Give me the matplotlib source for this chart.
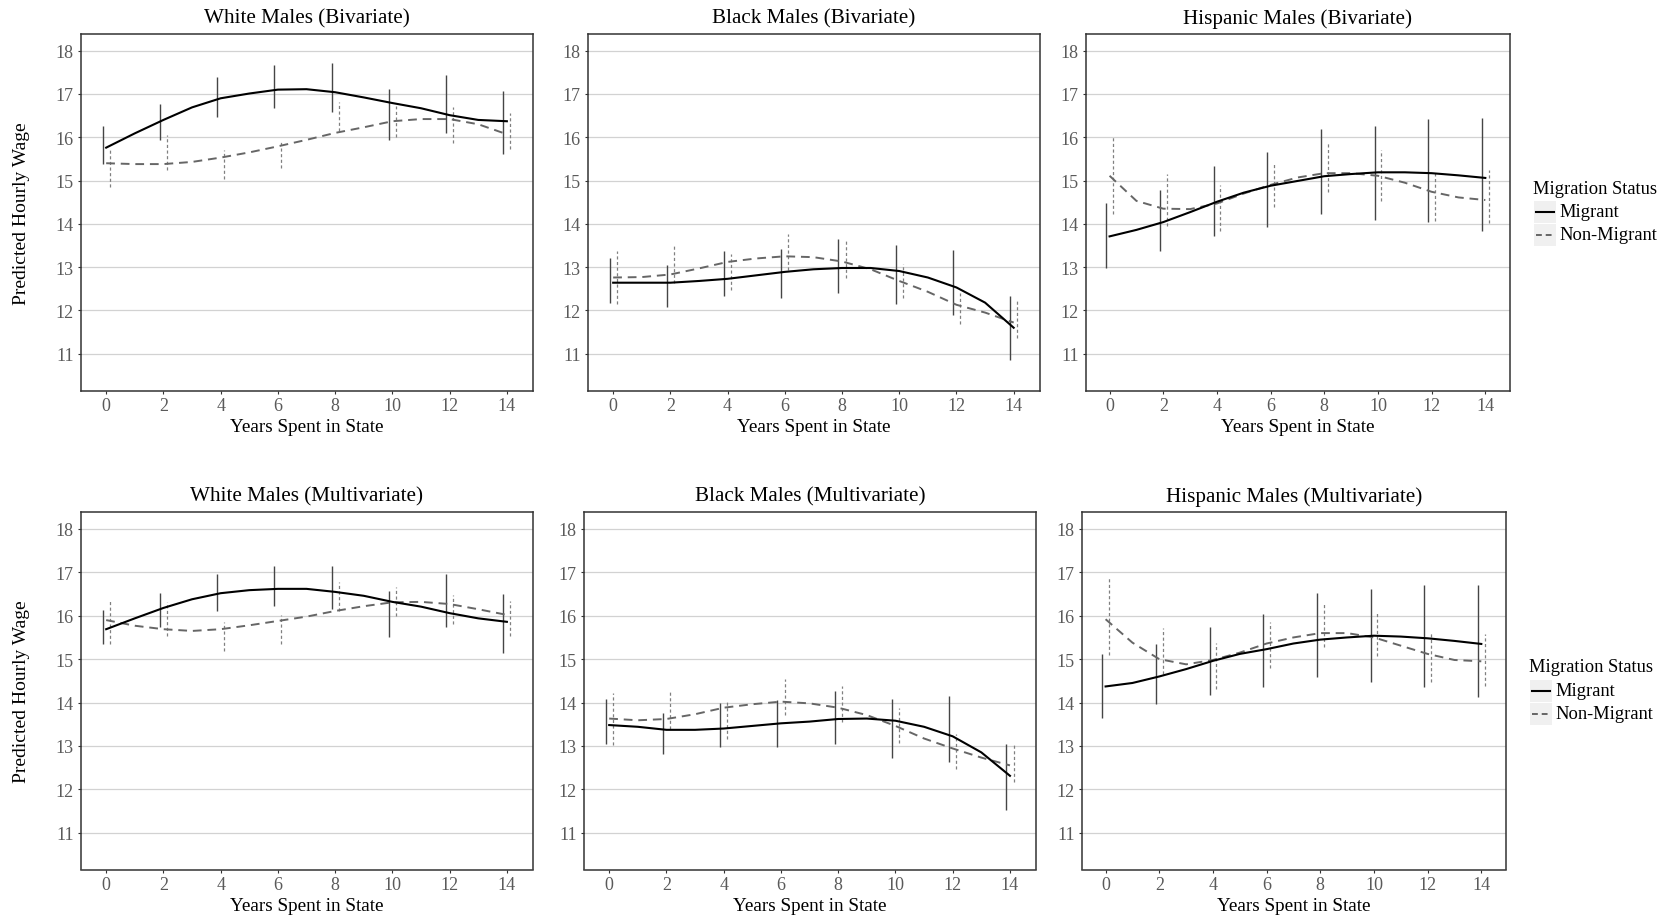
import matplotlib
matplotlib.use('Agg')
import matplotlib.pyplot as plt
from matplotlib.lines import Line2D
from matplotlib.patches import Rectangle

plt.rcParams['font.family'] = ['Liberation Serif', 'DejaVu Serif']

# x values
years = [0, 1, 2, 3, 4, 5, 6, 7, 8, 9, 10, 11, 12, 13, 14]
bar_years = [0, 2, 4, 6, 8, 10, 12, 14]

# White Males (Bivariate)
wb_mig = [15.76, 16.09, 16.40, 16.69, 16.90, 17.01, 17.10, 17.11, 17.04, 16.92, 16.79, 16.67, 16.51, 16.40, 16.37]
wb_non = [15.40, 15.38, 15.38, 15.43, 15.53, 15.65, 15.79, 15.94, 16.10, 16.23, 16.37, 16.42, 16.42, 16.30, 16.07]
wb_mig_lo = [15.38, 15.93, 16.47, 16.67, 16.59, 15.93, 16.10, 15.61]
wb_mig_hi = [16.26, 16.77, 17.40, 17.68, 17.71, 17.11, 17.44, 17.07]
wb_non_lo = [14.84, 15.24, 15.03, 15.28, 16.15, 16.00, 15.86, 15.73]
wb_non_hi = [15.75, 16.06, 15.71, 15.92, 16.82, 16.73, 16.69, 16.57]

# Black Males (Bivariate)
bb_mig = [12.64, 12.64, 12.64, 12.68, 12.73, 12.81, 12.89, 12.95, 12.98, 12.98, 12.91, 12.76, 12.53, 12.18, 11.60]
bb_non = [12.76, 12.77, 12.83, 12.97, 13.12, 13.20, 13.25, 13.23, 13.13, 12.95, 12.68, 12.43, 12.13, 11.95, 11.72]
bb_mig_lo = [12.16, 12.09, 12.33, 12.29, 12.41, 12.14, 11.89, 10.85]
bb_mig_hi = [13.20, 13.04, 13.37, 13.41, 13.64, 13.50, 13.40, 12.33]
bb_non_lo = [12.14, 12.64, 12.47, 12.93, 12.76, 12.29, 11.68, 11.37]
bb_non_hi = [13.37, 13.49, 13.30, 13.76, 13.61, 13.07, 12.41, 12.22]

# Hispanic Males (Bivariate)
hb_mig = [13.71, 13.86, 14.04, 14.27, 14.51, 14.72, 14.88, 14.99, 15.10, 15.15, 15.19, 15.19, 15.17, 15.12, 15.06]
hb_non = [15.11, 14.53, 14.35, 14.34, 14.47, 14.70, 14.90, 15.07, 15.17, 15.17, 15.11, 14.95, 14.74, 14.61, 14.55]
hb_mig_lo = [12.99, 13.37, 13.71, 13.92, 14.22, 14.08, 14.04, 13.83]
hb_mig_hi = [14.48, 14.78, 15.33, 15.67, 16.19, 16.26, 16.42, 16.44]
hb_non_lo = [14.22, 13.94, 13.84, 14.38, 14.74, 14.53, 14.07, 14.01]
hb_non_hi = [16.02, 15.15, 14.90, 15.42, 15.90, 15.71, 15.22, 15.24]

# White Males (Multivariate)
wm_mig = [15.69, 15.94, 16.18, 16.38, 16.52, 16.59, 16.62, 16.62, 16.55, 16.46, 16.32, 16.21, 16.06, 15.94, 15.86]
wm_non = [15.90, 15.77, 15.69, 15.65, 15.69, 15.78, 15.88, 15.98, 16.11, 16.22, 16.31, 16.32, 16.27, 16.15, 16.02]
wm_mig_lo = [15.36, 15.73, 16.10, 16.23, 16.15, 15.52, 15.73, 15.15]
wm_mig_hi = [16.14, 16.52, 16.96, 17.15, 17.15, 16.58, 16.96, 16.50]
wm_non_lo = [15.35, 15.54, 15.19, 15.35, 16.12, 16.00, 15.81, 15.54]
wm_non_hi = [16.35, 16.31, 15.85, 16.02, 16.78, 16.67, 16.48, 16.35]

# Black Males (Multivariate)
bm_mig = [13.48, 13.44, 13.37, 13.37, 13.40, 13.46, 13.52, 13.56, 13.62, 13.63, 13.58, 13.44, 13.22, 12.85, 12.31]
bm_non = [13.63, 13.59, 13.62, 13.73, 13.88, 13.96, 14.02, 13.98, 13.88, 13.71, 13.46, 13.17, 12.94, 12.73, 12.55]
bm_mig_lo = [13.04, 12.82, 12.98, 12.98, 13.05, 12.71, 12.62, 11.52]
bm_mig_hi = [14.08, 13.75, 14.00, 14.06, 14.27, 14.09, 14.14, 13.04]
bm_non_lo = [13.02, 13.40, 13.17, 13.71, 13.54, 13.06, 12.46, 12.17]
bm_non_hi = [14.23, 14.28, 14.02, 14.54, 14.38, 13.88, 13.27, 13.02]

# Hispanic Males (Multivariate)
hm_mig = [14.37, 14.45, 14.60, 14.77, 14.96, 15.12, 15.23, 15.36, 15.45, 15.50, 15.54, 15.52, 15.48, 15.42, 15.35]
hm_non = [15.92, 15.38, 15.00, 14.88, 14.98, 15.15, 15.36, 15.50, 15.60, 15.60, 15.50, 15.31, 15.12, 14.98, 14.95]
hm_mig_lo = [13.65, 13.96, 14.17, 14.35, 14.58, 14.48, 14.35, 14.12]
hm_mig_hi = [15.12, 15.35, 15.75, 16.05, 16.52, 16.62, 16.71, 16.71]
hm_non_lo = [15.09, 14.65, 14.32, 14.80, 15.27, 15.08, 14.48, 14.38]
hm_non_hi = [16.88, 15.71, 15.38, 15.85, 16.31, 16.12, 15.62, 15.58]

titles = ['White Males (Bivariate)', 'Black Males (Bivariate)', 'Hispanic Males (Bivariate)',
          'White Males (Multivariate)', 'Black Males (Multivariate)', 'Hispanic Males (Multivariate)']
legend_title = 'Migration Status'
legend_labels = ['Migrant', 'Non-Migrant']

W, H = 1667, 920
fig = plt.figure(figsize=(W / 100, H / 100), dpi=100)


def fx(x):
    return x / W


def fy(y):
    return 1 - y / H


# panel boxes in pixels: left, right, top, bottom
boxes = [(80.7, 533.2, 35, 391.5), (587.7, 1040, 35, 391.5), (1085.7, 1510, 35, 391.5),
         (80.7, 533.2, 513.3, 870.5), (583.7, 1036.3, 513.3, 870.5), (1081.7, 1506, 513.3, 870.5)]

panels = [
    (wb_mig, wb_non, wb_mig_lo, wb_mig_hi, wb_non_lo, wb_non_hi),
    (bb_mig, bb_non, bb_mig_lo, bb_mig_hi, bb_non_lo, bb_non_hi),
    (hb_mig, hb_non, hb_mig_lo, hb_mig_hi, hb_non_lo, hb_non_hi),
    (wm_mig, wm_non, wm_mig_lo, wm_mig_hi, wm_non_lo, wm_non_hi),
    (bm_mig, bm_non, bm_mig_lo, bm_mig_hi, bm_non_lo, bm_non_hi),
    (hm_mig, hm_non, hm_mig_lo, hm_mig_hi, hm_non_lo, hm_non_hi),
]

dodge = 0.125
for i, (box, data, title) in enumerate(zip(boxes, panels, titles)):
    l, r, t, b = box
    ax = fig.add_axes([fx(l), fy(b), (r - l) / W, (b - t) / H])
    mig, non, mlo, mhi, nlo, nhi = data

    ax.vlines([x - dodge for x in bar_years], mlo, mhi, colors='#454545', lw=1.0, zorder=2)
    ax.vlines([x + dodge for x in bar_years], nlo, nhi, colors='#808080', lw=0.9,
              linestyles=(0, (2.5, 2)), zorder=2)
    ax.plot(years, non, color='#666666', lw=1.4, dashes=(4.5, 3), zorder=3)
    ax.plot(years, mig, color='black', lw=1.5, zorder=4)

    ax.set_xlim(-0.89, 14.92)
    ax.set_ylim(10.15, 18.385)
    ax.set_xticks(bar_years)
    ax.set_yticks(range(11, 19))
    ax.grid(axis='y', color='#d2d2d2', lw=0.9)
    ax.set_axisbelow(True)
    for s in ax.spines.values():
        s.set_color('#333333')
        s.set_linewidth(1.1)
    ax.tick_params(length=2.5, color='#333333', labelcolor='#5a5a5a', labelsize=13, pad=2.5)

    cx = (l + r) / 2
    fig.text(fx(cx), fy(t - 16), title, ha='center', va='center', fontsize=15.2)
    fig.text(fx(cx), fy(b + 36), 'Years Spent in State', ha='center', va='center', fontsize=13.8)
    if i % 3 == 0:
        fig.text(fx(22), fy((t + b) / 2), 'Predicted Hourly Wage', ha='center', va='center',
                 rotation=90, fontsize=14)

# legends, one per row
for lx, ty in [(1533, 189), (1529, 667.5)]:
    fig.text(fx(lx), fy(ty), legend_title, ha='left', va='center', fontsize=13.3)
    for k, lab in enumerate(legend_labels):
        yc = ty + 24 + 23 * k
        fig.add_artist(Rectangle((fx(lx + 1), fy(yc + 11)), 22 / W, 22 / H,
                                 transform=fig.transFigure, facecolor='#f0f0f0', edgecolor='none'))
        if k == 0:
            ln = Line2D([fx(lx + 3), fx(lx + 21)], [fy(yc), fy(yc)], transform=fig.transFigure,
                        color='black', lw=1.5)
        else:
            ln = Line2D([fx(lx + 3), fx(lx + 21)], [fy(yc), fy(yc)], transform=fig.transFigure,
                        color='#666666', lw=1.4, dashes=(3, 2))
        fig.add_artist(ln)
        fig.text(fx(lx + 26), fy(yc), lab, ha='left', va='center', fontsize=13.3)

fig.savefig('out.png', dpi=100)
